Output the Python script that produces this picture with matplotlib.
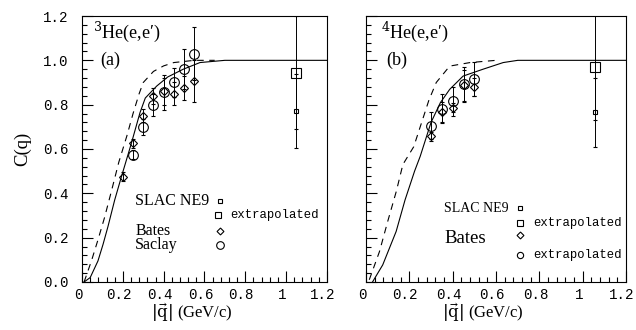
import numpy as np
import matplotlib
matplotlib.use("Agg")
import matplotlib.pyplot as plt
import matplotlib.transforms as mtransforms
from matplotlib.ticker import MultipleLocator, FuncFormatter

plt.rcParams['font.family'] = ['Liberation Serif', 'DejaVu Serif']
plt.rcParams['mathtext.fontset'] = 'dejavuserif'

# ---- 3He data (panel a) ----
he3_bates_q = [0.20, 0.25, 0.30, 0.35, 0.40, 0.45, 0.50, 0.55]
he3_bates = [0.475, 0.625, 0.75, 0.84, 0.86, 0.85, 0.875, 0.905]
he3_bates_err = [0.02, 0.02, 0.03, 0.035, 0.06, 0.05, 0.055, 0.095]
he3_saclay_q = [0.25, 0.30, 0.35, 0.40, 0.45, 0.50, 0.55]
he3_saclay = [0.575, 0.70, 0.80, 0.855, 0.90, 0.96, 1.03]
he3_saclay_err = [0.02, 0.035, 0.05, 0.08, 0.065, 0.09, 0.12]
he3_slac_q = [1.05]
he3_slac = [0.771]
he3_slac_err = [0.167]
he3_extrap = [0.944]
he3_extrap_err = [0.256]

he3_solid_q = [0.01, 0.04, 0.078, 0.103, 0.127, 0.16, 0.193, 0.24, 0.284, 0.31,
               0.366, 0.42, 0.496, 0.578, 0.70, 1.2]
he3_solid = [0.0, 0.02, 0.095, 0.17, 0.25, 0.37, 0.475, 0.62, 0.764, 0.83,
             0.884, 0.925, 0.96, 0.99, 1.0, 1.0]
he3_dash_q = [0.01, 0.046, 0.078, 0.11, 0.144, 0.18, 0.22, 0.25, 0.28, 0.30,
              0.35, 0.40, 0.45, 0.55, 0.65]
he3_dash = [0.0, 0.095, 0.19, 0.29, 0.41, 0.54, 0.66, 0.76, 0.85, 0.9,
            0.95, 0.975, 0.99, 1.0, 1.0]

# ---- 4He data (panel b) ----
he4_q = [0.30, 0.35, 0.40, 0.45, 0.50]
he4_bates = [0.657, 0.767, 0.786, 0.888, 0.88]
he4_bates_err = [0.02, 0.045, 0.02, 0.07, 0.04]
he4_bates_ex = [0.706, 0.781, 0.816, 0.891, 0.914]
he4_bates_ex_err = [0.06, 0.065, 0.065, 0.077, 0.077]
he4_slac_q = [1.057]
he4_slac = [0.766]
he4_slac_err = [0.155]
he4_extrap = [0.971]
he4_extrap_err = [0.24]

he4_solid_q = [0.03, 0.077, 0.139, 0.18, 0.224, 0.25, 0.30, 0.343, 0.386, 0.448,
               0.54, 0.633, 0.70, 1.2]
he4_solid = [0.0, 0.077, 0.228, 0.37, 0.50, 0.567, 0.72, 0.809, 0.869, 0.929,
             0.96, 0.99, 1.0, 1.0]
he4_dash_q = [0.015, 0.062, 0.10, 0.14, 0.17, 0.22, 0.25, 0.29, 0.324, 0.386,
              0.48, 0.60]
he4_dash = [0.01, 0.137, 0.273, 0.41, 0.53, 0.61, 0.70, 0.82, 0.90, 0.974,
            0.99, 1.0]

fig = plt.figure(figsize=(6.36, 3.30), dpi=100)
ax1 = fig.add_axes([0.129, 0.1455, 0.385, 0.806])
ax2 = fig.add_axes([0.5755, 0.1455, 0.409, 0.806])

LW = 0.8
MONO = ['Liberation Mono', 'DejaVu Sans Mono']
ebkw = dict(ls='none', color='black', elinewidth=0.7, capsize=1.5,
            capthick=0.7, mfc='none', mec='black', mew=0.8)
# x tick labels sit a little left of their ticks in the original
shift = mtransforms.ScaledTranslation(-4 / 100, 0, fig.dpi_scale_trans)


def setup(ax, ylabels):
    ax.set_xlim(0, 1.2)
    ax.set_ylim(0, 1.2)
    ax.xaxis.set_major_locator(MultipleLocator(0.2))
    ax.xaxis.set_minor_locator(MultipleLocator(0.04))
    ax.yaxis.set_major_locator(MultipleLocator(0.2))
    ax.yaxis.set_minor_locator(MultipleLocator(0.04))
    ax.tick_params(which='both', direction='in', top=False, right=False, width=0.8)
    ax.tick_params(which='major', length=8)
    ax.tick_params(which='minor', length=3.5)
    ax.tick_params(axis='x', pad=4)
    ax.tick_params(axis='y', pad=10)
    ax.xaxis.set_major_formatter(FuncFormatter(lambda v, p: '%g' % round(v, 1)))
    if ylabels:
        ax.yaxis.set_major_formatter(FuncFormatter(lambda v, p: '%.1f' % v))
    else:
        ax.set_yticklabels([])
    for lab in ax.get_xticklabels() + ax.get_yticklabels():
        lab.set_family(MONO)
        lab.set_fontsize(10.2)
    for lab in ax.get_xticklabels():
        lab.set_transform(lab.get_transform() + shift)
    for s in ax.spines.values():
        s.set_linewidth(0.8)
    ax.set_xlabel(r'$|\vec{\mathrm{q}}|$ (GeV/c)', fontsize=12, labelpad=0)
    ax.xaxis.label.set_x(0.45)


setup(ax1, True)
setup(ax2, False)
ax1.set_ylabel('C(q)', fontsize=13.5, labelpad=8)

DASH = (0, (6, 5))

# panel a
ax1.plot(he3_solid_q, he3_solid, color='black', lw=LW)
ax1.plot(he3_dash_q, he3_dash, color='black', lw=LW, ls=DASH)
ax1.errorbar(he3_bates_q, he3_bates, yerr=he3_bates_err, marker='D', ms=4.5, **ebkw)
ax1.errorbar(he3_saclay_q, he3_saclay, yerr=he3_saclay_err, marker='o', ms=7, **ebkw)
ax1.errorbar(he3_slac_q, he3_slac, yerr=he3_slac_err, marker='s', ms=3.5, **ebkw)
ax1.errorbar(he3_slac_q, he3_extrap, yerr=he3_extrap_err, marker='s', ms=7, **ebkw)

ax1.text(0.054, 1.13, '$^3$He(e,e\u2032)', fontsize=13, va='center')
ax1.text(0.09, 1.0, '(a)', fontsize=13, va='center')

mk = dict(ls='none', color='black', mfc='none', mew=0.8)
ax1.text(0.26, 0.367, 'SLAC NE9', fontsize=11.5, va='center')
ax1.plot([0.676], [0.367], marker='s', ms=3.5, **mk)
ax1.plot([0.668], [0.30], marker='s', ms=5, **mk)
ax1.text(0.725, 0.30, 'extrapolated', fontsize=8.8, va='center', family=MONO)
ax1.text(0.26, 0.232, 'Bates', fontsize=11.5, va='center')
ax1.plot([0.676], [0.228], marker='D', ms=3.5, **mk)
ax1.text(0.26, 0.165, 'Saclay', fontsize=11.5, va='center')
ax1.plot([0.676], [0.167], marker='o', ms=5.5, **mk)

# panel b
ax2.plot(he4_solid_q, he4_solid, color='black', lw=LW)
ax2.plot(he4_dash_q, he4_dash, color='black', lw=LW, ls=DASH)
ax2.errorbar(he4_q, he4_bates, yerr=he4_bates_err, marker='D', ms=4.5, **ebkw)
ax2.errorbar(he4_q, he4_bates_ex, yerr=he4_bates_ex_err, marker='o', ms=7, **ebkw)
ax2.errorbar(he4_slac_q, he4_slac, yerr=he4_slac_err, marker='s', ms=3.5, **ebkw)
ax2.errorbar(he4_slac_q, he4_extrap, yerr=he4_extrap_err, marker='s', ms=7, **ebkw)

ax2.text(0.07, 1.13, '$^4$He(e,e\u2032)', fontsize=13, va='center')
ax2.text(0.093, 1.0, '(b)', fontsize=13, va='center')

ax2.text(0.361, 0.333, 'SLAC NE9', fontsize=10, va='center')
ax2.plot([0.71], [0.333], marker='s', ms=3.5, **mk)
ax2.plot([0.71], [0.266], marker='s', ms=5, **mk)
ax2.text(0.773, 0.266, 'extrapolated', fontsize=8.8, va='center', family=MONO)
ax2.text(0.361, 0.198, 'Bates', fontsize=13.5, va='center')
ax2.plot([0.71], [0.213], marker='D', ms=3.5, **mk)
ax2.plot([0.71], [0.122], marker='o', ms=4.5, **mk)
ax2.text(0.773, 0.122, 'extrapolated', fontsize=8.8, va='center', family=MONO)

fig.savefig('out.png', dpi=100)
